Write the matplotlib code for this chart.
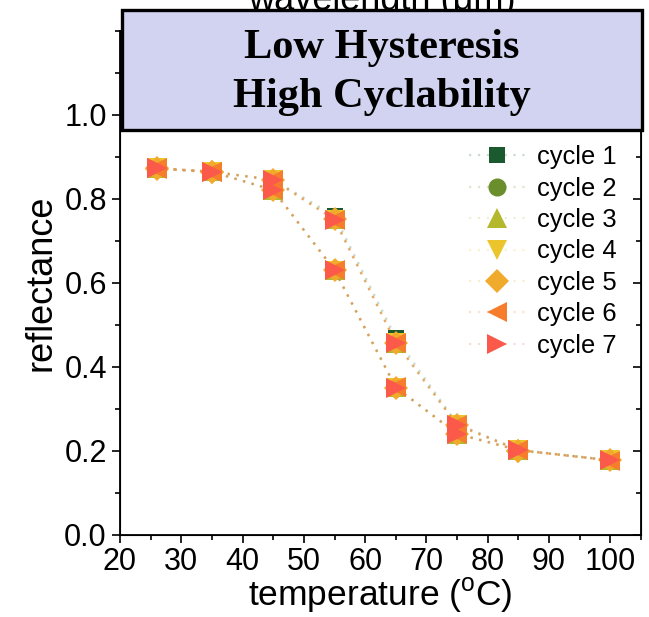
import matplotlib
matplotlib.use("Agg")
import matplotlib.pyplot as plt
from matplotlib.patches import Rectangle
from matplotlib.ticker import MultipleLocator, FormatStrFormatter
from matplotlib.colors import to_rgba

# ---- data ----
temperature = [26, 35, 45, 55, 65, 75, 85, 100, 85, 75, 65, 55, 45, 35, 26]
cycle_labels = ["cycle 1", "cycle 2", "cycle 3", "cycle 4", "cycle 5", "cycle 6", "cycle 7"]
cycle1 = [0.872, 0.864, 0.846, 0.760, 0.470, 0.265, 0.203, 0.178, 0.202, 0.242, 0.352, 0.632, 0.822, 0.864, 0.873]
cycle2 = [0.873, 0.865, 0.845, 0.752, 0.459, 0.262, 0.202, 0.178, 0.202, 0.240, 0.351, 0.630, 0.821, 0.865, 0.874]
cycle3 = [0.874, 0.866, 0.847, 0.753, 0.458, 0.263, 0.203, 0.179, 0.203, 0.241, 0.352, 0.631, 0.822, 0.866, 0.873]
cycle4 = [0.873, 0.865, 0.846, 0.751, 0.457, 0.262, 0.202, 0.178, 0.202, 0.240, 0.350, 0.629, 0.820, 0.865, 0.873]
cycle5 = [0.873, 0.864, 0.845, 0.752, 0.458, 0.261, 0.201, 0.178, 0.201, 0.241, 0.351, 0.630, 0.821, 0.864, 0.872]
cycle6 = [0.872, 0.865, 0.846, 0.750, 0.457, 0.262, 0.202, 0.177, 0.202, 0.240, 0.352, 0.631, 0.821, 0.865, 0.873]
cycle7 = [0.873, 0.865, 0.845, 0.751, 0.458, 0.262, 0.202, 0.178, 0.202, 0.241, 0.351, 0.630, 0.821, 0.865, 0.873]
cycles = [cycle1, cycle2, cycle3, cycle4, cycle5, cycle6, cycle7]
x_ticks = [20, 30, 40, 50, 60, 70, 80, 90, 100]
y_ticks = [0.0, 0.2, 0.4, 0.6, 0.8, 1.0]

colors = ["#1b5a2f", "#6b8e2c", "#b3b82c", "#ecc52c", "#f0aa2c", "#f57d2c", "#fb5a4a"]
markers = ["s", "o", "^", "v", "D", "<", ">"]
msizes = [12, 13, 15, 15, 12, 15, 15]

plt.rcParams['font.family'] = ['Liberation Sans', 'DejaVu Sans']

fig = plt.figure(figsize=(6.49, 6.17), dpi=100)
ax = fig.add_axes([120/649, 82/617, 521/649, 504/617])

for vals, c, m, ms, lab in zip(cycles, colors, markers, msizes, cycle_labels):
    ax.plot(temperature, vals, linestyle=(0, (1, 3)), color=to_rgba(c, 0.22), lw=1.6,
            marker=m, markersize=ms, markerfacecolor=c, markeredgecolor=c,
            markeredgewidth=0, label=lab)

ax.set_xlim(20, 105)
ax.set_ylim(0, 1.2)
ax.set_xticks(x_ticks)
ax.set_yticks(y_ticks)
ax.xaxis.set_minor_locator(MultipleLocator(5))
ax.yaxis.set_minor_locator(MultipleLocator(0.1))
ax.tick_params(axis='both', which='major', labelsize=22, length=6, width=1.2, direction='out')
ax.tick_params(axis='x', which='major', pad=3)
ax.tick_params(axis='both', which='minor', length=3.5, width=1.2, direction='out')
ax.yaxis.set_major_formatter(FormatStrFormatter('%.1f'))
for s in ax.spines.values():
    s.set_linewidth(1.3)

# right-side inward ticks
axr = ax.twinx()
axr.set_ylim(ax.get_ylim())
axr.set_yticks(y_ticks)
axr.yaxis.set_minor_locator(MultipleLocator(0.1))
axr.tick_params(axis='y', which='major', direction='in', length=6, width=1.2, labelright=False)
axr.tick_params(axis='y', which='minor', direction='in', length=3.5, width=1.2)

ax.set_xlabel("temperature ($\\mathregular{^{o}}$C)", fontsize=25.5, labelpad=-1)
ax.set_ylabel("reflectance", fontsize=26, labelpad=4)

leg = ax.legend(loc='upper left', bbox_to_anchor=(459/649, 1 - 135/617),
                bbox_transform=fig.transFigure, frameon=False, fontsize=18.4,
                handlelength=2.2, handletextpad=0.45, labelspacing=0.29, borderaxespad=0)

# partially hidden top label
fig.text(382/649, 1 - 10/617, "wavelength (\u03bcm)", ha='center', va='baseline',
         fontsize=26, zorder=2)

# title box
box = Rectangle((122/649, 1 - 130/617), 520/649, 120/617, transform=fig.transFigure,
                facecolor="#d1d3f0", edgecolor="black", linewidth=2.4, zorder=4)
fig.patches.append(box)
fig.text(382/649, 1 - 48/617, "Low Hysteresis", ha='center', va='center',
         fontsize=30.5, fontweight='bold', family=['Liberation Serif', 'DejaVu Serif'], zorder=6)
fig.text(382/649, 1 - 97/617, "High Cyclability", ha='center', va='center',
         fontsize=30.5, fontweight='bold', family=['Liberation Serif', 'DejaVu Serif'], zorder=6)

fig.savefig("out.png", dpi=100)
